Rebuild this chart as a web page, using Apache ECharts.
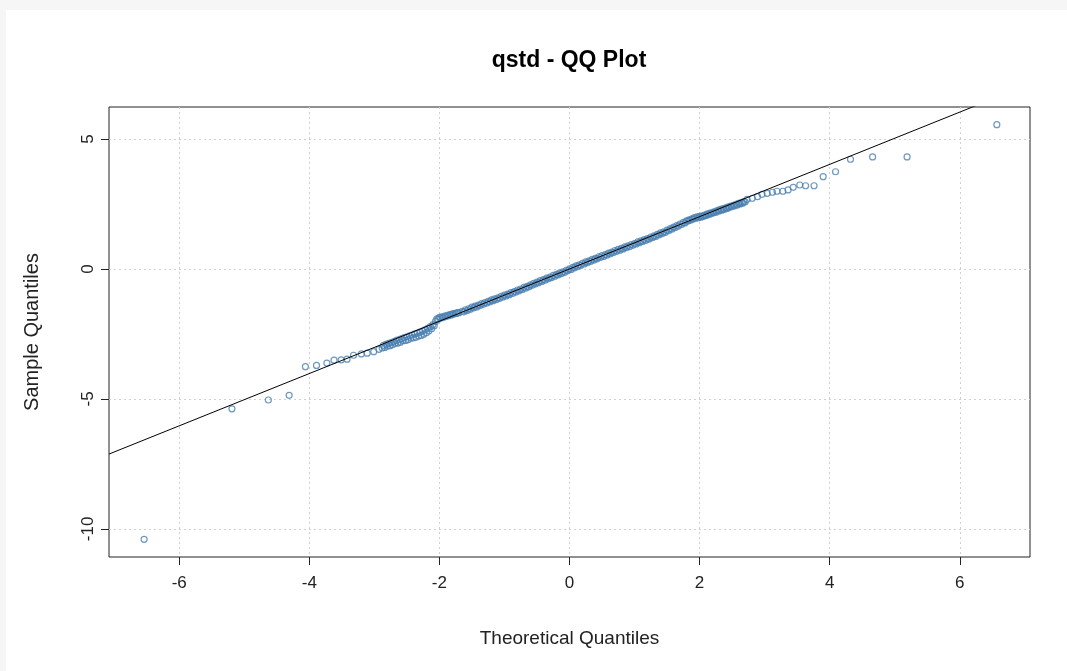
<!DOCTYPE html>
<html>
<head>
<meta charset="utf-8">
<script src="https://cdn.jsdelivr.net/npm/echarts@6/dist/echarts.min.js"></script>
<style>
  html, body { margin: 0; padding: 0; background: #f6f6f6; }
  #chart { position: absolute; left: 6px; top: 10px; width: 1061px; height: 661px; background: #ffffff; }
</style>
</head>
<body>
<div id="chart"></div>
<script>
// ---- data ----
const titleText = 'qstd - QQ Plot';
const xName = 'Theoretical Quantiles';
const yName = 'Sample Quantiles';

const xTicks = [-6, -4, -2, 0, 2, 4, 6];
const yTicks = [-10, -5, 0, 5];
const xRange = [-7.08, 7.08];
const yRange = [-11.08, 6.23];

// theoretical quantiles (x) and sample quantiles (y)
const lowerTailX = [-6.54, -5.19, -4.63, -4.31, -4.06, -3.89, -3.73, -3.62, -3.51, -3.42, -3.32, -3.20, -3.11, -3.01, -2.93];
const lowerTailY = [-10.40, -5.38, -5.04, -4.86, -3.76, -3.71, -3.62, -3.51, -3.50, -3.47, -3.32, -3.27, -3.24, -3.18, -3.09];

const bodyAX = [-2.88, -2.84, -2.80, -2.76, -2.72, -2.68, -2.64, -2.60, -2.56, -2.52, -2.48, -2.44, -2.40, -2.36, -2.32, -2.28, -2.24, -2.20, -2.16, -2.12, -2.08];
const bodyAY = [-3.04, -3.02, -2.97, -2.95, -2.92, -2.86, -2.85, -2.82, -2.76, -2.75, -2.72, -2.66, -2.65, -2.63, -2.58, -2.56, -2.51, -2.45, -2.38, -2.30, -2.18];
const bodyA2X = [-2.86, -2.82, -2.78, -2.74, -2.70, -2.66, -2.62, -2.58, -2.54, -2.50, -2.46, -2.42, -2.38, -2.34, -2.30, -2.26, -2.22, -2.18, -2.14, -2.10];
const bodyA2Y = [-2.94, -2.90, -2.86, -2.83, -2.79, -2.75, -2.72, -2.68, -2.64, -2.61, -2.57, -2.54, -2.50, -2.47, -2.43, -2.39, -2.34, -2.28, -2.22, -2.14];

const bodyBX = [-2.04, -2.00, -1.96, -1.92, -1.88, -1.84, -1.80, -1.76, -1.72];
const bodyBY = [-1.92, -1.86, -1.84, -1.81, -1.78, -1.76, -1.73, -1.71, -1.68];
const bodyB2X = [-2.06, -2.02, -1.98, -1.94, -1.90, -1.86, -1.82, -1.78, -1.74, -1.70];
const bodyB2Y = [-2.02, -1.93, -1.89, -1.86, -1.83, -1.80, -1.77, -1.74, -1.71, -1.68];

const bodyCX = [-1.65, -1.60, -1.55, -1.50, -1.45, -1.40, -1.35, -1.30, -1.25, -1.20, -1.15, -1.10, -1.05, -1.00,
  -0.95, -0.90, -0.85, -0.80, -0.75, -0.70, -0.65, -0.60, -0.55, -0.50, -0.45, -0.40, -0.35, -0.30, -0.25, -0.20,
  -0.15, -0.10, -0.05, 0.00, 0.05, 0.10, 0.15, 0.20, 0.25, 0.30, 0.35, 0.40, 0.45, 0.50, 0.55, 0.60, 0.65, 0.70,
  0.75, 0.80, 0.85, 0.90, 0.95, 1.00, 1.05, 1.10, 1.15, 1.20, 1.25, 1.30, 1.35, 1.40, 1.45, 1.50, 1.55, 1.60,
  1.65, 1.70, 1.75, 1.80];
const bodyCY = [-1.63, -1.57, -1.53, -1.47, -1.43, -1.39, -1.33, -1.29, -1.25, -1.19, -1.15, -1.11, -1.05, -1.01,
  -0.97, -0.91, -0.87, -0.81, -0.77, -0.71, -0.67, -0.61, -0.55, -0.51, -0.45, -0.41, -0.35, -0.31, -0.25, -0.21,
  -0.15, -0.11, -0.05, 0.00, 0.06, 0.12, 0.16, 0.22, 0.27, 0.31, 0.37, 0.41, 0.47, 0.51, 0.55, 0.61, 0.65, 0.71,
  0.75, 0.79, 0.85, 0.89, 0.94, 0.98, 1.04, 1.08, 1.13, 1.17, 1.23, 1.27, 1.33, 1.39, 1.43, 1.49, 1.55, 1.61,
  1.67, 1.73, 1.79, 1.85];
const bodyC2X = [-1.625, -1.575, -1.525, -1.475, -1.425, -1.375, -1.325, -1.275, -1.225, -1.175, -1.125, -1.075,
  -1.025, -0.975, -0.925, -0.875, -0.825, -0.775, -0.725, -0.675, -0.625, -0.575, -0.525, -0.475, -0.425, -0.375,
  -0.325, -0.275, -0.225, -0.175, -0.125, -0.075, -0.025, 0.025, 0.075, 0.125, 0.175, 0.225, 0.275, 0.325, 0.375,
  0.425, 0.475, 0.525, 0.575, 0.625, 0.675, 0.725, 0.775, 0.825, 0.875, 0.925, 0.975, 1.025, 1.075, 1.125, 1.175,
  1.225, 1.275, 1.325, 1.375, 1.425, 1.475, 1.525, 1.575, 1.625, 1.675, 1.725, 1.775];
const bodyC2Y = [-1.65, -1.60, -1.55, -1.50, -1.46, -1.41, -1.36, -1.32, -1.27, -1.22, -1.18, -1.13,
  -1.08, -1.04, -0.99, -0.94, -0.89, -0.84, -0.79, -0.74, -0.69, -0.63, -0.58, -0.53, -0.48, -0.43,
  -0.38, -0.33, -0.28, -0.23, -0.18, -0.13, -0.07, -0.02, 0.04, 0.09, 0.14, 0.19, 0.24, 0.29, 0.34,
  0.39, 0.44, 0.48, 0.53, 0.58, 0.63, 0.68, 0.72, 0.77, 0.82, 0.86, 0.91, 0.96, 1.01, 1.06, 1.10,
  1.15, 1.20, 1.25, 1.31, 1.36, 1.41, 1.47, 1.53, 1.59, 1.65, 1.71, 1.77];

const bodyDX = [1.84, 1.88, 1.92, 1.96, 2.00, 2.04, 2.08, 2.12, 2.16, 2.20, 2.24, 2.28, 2.32, 2.36, 2.40, 2.44, 2.48, 2.52, 2.56, 2.60, 2.64, 2.68];
const bodyDY = [1.89, 1.93, 1.98, 2.00, 2.02, 2.04, 2.07, 2.12, 2.15, 2.18, 2.22, 2.25, 2.29, 2.32, 2.35, 2.39, 2.42, 2.45, 2.49, 2.52, 2.55, 2.59];
const bodyD2X = [1.82, 1.86, 1.90, 1.94, 1.98, 2.02, 2.06, 2.10, 2.14, 2.18, 2.22, 2.26, 2.30, 2.34, 2.38, 2.42, 2.46, 2.50, 2.54, 2.58, 2.62, 2.66, 2.70];
const bodyD2Y = [1.84, 1.87, 1.92, 1.95, 1.97, 1.99, 2.02, 2.06, 2.09, 2.13, 2.16, 2.19, 2.23, 2.26, 2.29, 2.33, 2.36, 2.40, 2.43, 2.46, 2.50, 2.53, 2.58];

const upperTailX = [2.73, 2.81, 2.89, 2.96, 3.04, 3.12, 3.19, 3.28, 3.36, 3.44, 3.54, 3.63, 3.76, 3.90, 4.09, 4.32, 4.66, 5.19, 6.57];
const upperTailY = [2.68, 2.72, 2.78, 2.87, 2.91, 2.95, 2.99, 2.99, 3.04, 3.14, 3.23, 3.20, 3.20, 3.55, 3.74, 4.22, 4.31, 4.31, 5.55];

// reference line (qqline) end points
const lineX = [-7.08, 7.08];
const lineY = [-7.12, 7.12];

// ---- build ----
function pairs(xs, ys) { return xs.map((x, i) => [x, ys[i]]); }
const points = [].concat(
  pairs(lowerTailX, lowerTailY),
  pairs(bodyAX, bodyAY), pairs(bodyA2X, bodyA2Y),
  pairs(bodyBX, bodyBY), pairs(bodyB2X, bodyB2Y),
  pairs(bodyCX, bodyCY), pairs(bodyC2X, bodyC2Y),
  pairs(bodyDX, bodyDY), pairs(bodyD2X, bodyD2Y),
  pairs(upperTailX, upperTailY)
);

const FONT = 'Liberation Sans, Arial, sans-serif';
const chart = echarts.init(document.getElementById('chart'), null, { renderer: 'canvas' });
chart.setOption({
  animation: false,
  backgroundColor: '#ffffff',
  graphic: [{
    type: 'text', x: 563, y: 51,
    style: { text: titleText, font: 'bold 23px ' + FONT, fill: '#000', textAlign: 'center', textVerticalAlign: 'middle' }
  }],
  grid: { left: 103, right: 37, top: 97, bottom: 114, show: true, borderColor: '#222', borderWidth: 1, backgroundColor: 'transparent' },
  xAxis: {
    type: 'value', min: xRange[0], max: xRange[1],
    name: xName, nameLocation: 'middle', nameGap: 72,
    nameTextStyle: { fontFamily: FONT, fontSize: 19, color: '#222' },
    axisLine: { show: false, onZero: false },
    axisTick: { show: true, length: 8, inside: false, customValues: xTicks, lineStyle: { color: '#222' } },
    axisLabel: { customValues: xTicks, fontFamily: FONT, fontSize: 17, color: '#222', margin: 18 },
    splitLine: { show: true, customValues: xTicks, lineStyle: { type: [2, 3], color: '#d0d0d0', width: 1 } }
  },
  yAxis: {
    type: 'value', min: yRange[0], max: yRange[1],
    name: yName, nameLocation: 'middle', nameGap: 67, nameRotate: 90,
    nameTextStyle: { fontFamily: FONT, fontSize: 20, color: '#222' },
    axisLine: { show: false, onZero: false },
    axisTick: { show: true, length: 8, inside: false, customValues: yTicks, lineStyle: { color: '#222' } },
    axisLabel: { customValues: yTicks, rotate: 90, fontFamily: FONT, fontSize: 17, color: '#222', margin: 12 },
    splitLine: { show: true, customValues: yTicks, lineStyle: { type: [2, 3], color: '#d0d0d0', width: 1 } }
  },
  series: [
    {
      type: 'scatter', data: points, symbol: 'circle', symbolSize: 6, z: 2,
      itemStyle: { color: 'rgba(0,0,0,0)', borderColor: '#4a80b0', borderWidth: 1.2 },
      emphasis: { disabled: true }
    },
    {
      type: 'line', data: pairs(lineX, lineY), showSymbol: false, symbol: 'none', clip: true, z: 3,
      lineStyle: { color: '#000', width: 1 }, emphasis: { disabled: true }
    }
  ]
});
</script>
</body>
</html>
